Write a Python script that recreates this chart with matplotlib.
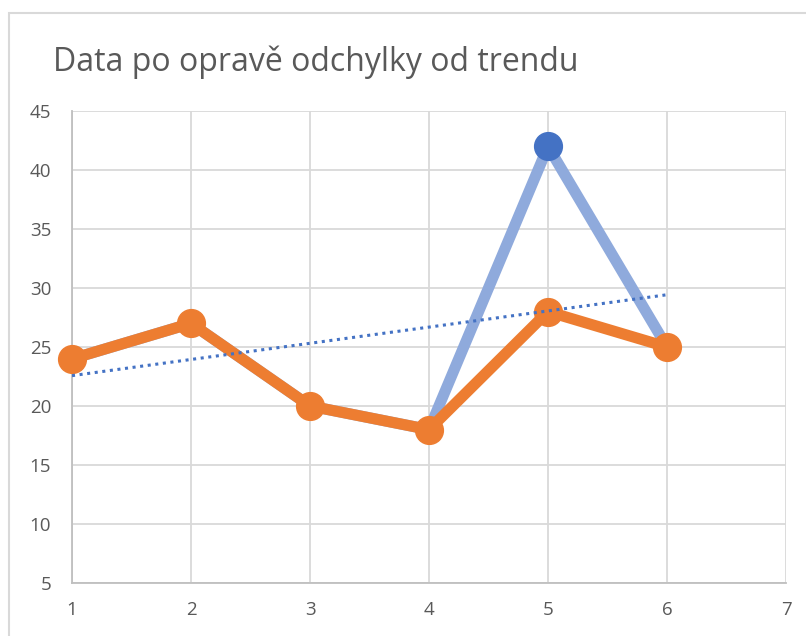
import matplotlib
matplotlib.use("Agg")
import matplotlib.pyplot as plt
import numpy as np
from matplotlib.patches import Rectangle

x = [1, 2, 3, 4, 5, 6]
original = [24, 27, 20, 18, 42, 25]
corrected = [24, 27, 20, 18, 28, 25]
title = "Data po opravě odchylky od trendu"

plt.rcParams['font.family'] = ['Open Sans', 'DejaVu Sans']

fig = plt.figure(figsize=(8.06, 6.36), dpi=100)
fig.patch.set_facecolor("white")
fig.add_artist(Rectangle((9/806, -0.1), 1.2, 1.1 - 13/636, transform=fig.transFigure,
                         fill=False, edgecolor="#D9D9D9", linewidth=1.5))

ax = fig.add_axes([72/806, 53/636, 714/806, 472/636])
ax.set_xlim(1, 7)
ax.set_ylim(5, 45)
ax.set_xticks(range(1, 8))
ax.set_yticks(range(5, 46, 5))
ax.grid(True, color="#D9D9D9", linewidth=1.3, zorder=0)
for s in ["top", "right"]:
    ax.spines[s].set_visible(False)
for s in ["left", "bottom"]:
    ax.spines[s].set_color("#BFBFBF")
    ax.spines[s].set_linewidth(1.3)
ax.tick_params(length=0, labelsize=13.5, labelcolor="#595959")
ax.tick_params(axis="y", pad=15)
ax.tick_params(axis="x", pad=13)

# original series (line light, marker only at outlier)
ax.plot(x, original, color="#8FAADC", linewidth=8, solid_capstyle="round", zorder=2, clip_on=False)
ax.plot([x[4]], [original[4]], "o", color="#4472C4", markersize=20, zorder=3, clip_on=False)

# corrected series
ax.plot(x, corrected, color="#ED7D31", linewidth=8, marker="o", markersize=20,
        solid_joinstyle="round", zorder=4, clip_on=False)

# linear trend of original data
coef = np.polyfit(x, original, 1)
tx = np.array([x[0], x[-1]])
ax.plot(tx, np.polyval(coef, tx), color="#4472C4", linewidth=2.2, linestyle=(0, (1, 1.5)), zorder=5)

fig.text(53/806, 1 - 62/636, title, fontsize=23, color="#595959", va="center", ha="left")

fig.savefig("out.png", dpi=100)
